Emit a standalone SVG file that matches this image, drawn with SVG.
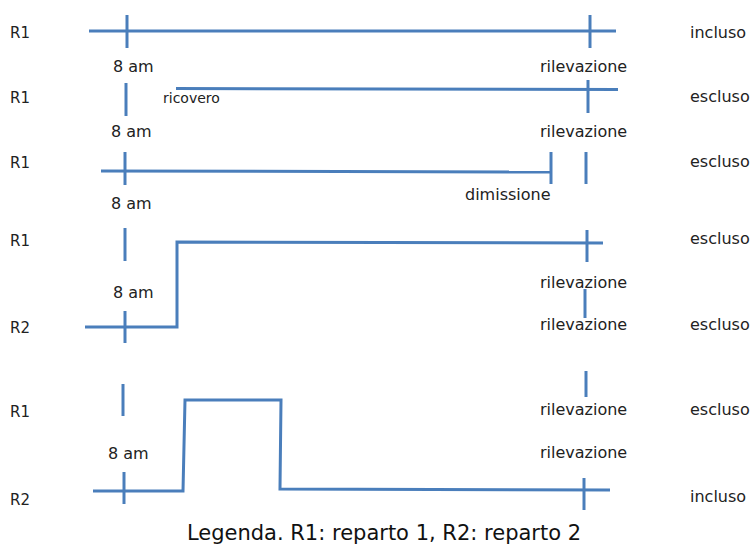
<svg xmlns="http://www.w3.org/2000/svg" width="753" height="544" viewBox="0 0 753 544">
<style>
.ln{stroke:#4A7EBB;stroke-width:3;fill:none;stroke-linejoin:miter}
.t{font-family:"DejaVu Sans",Verdana,sans-serif;font-size:16px;fill:#222}
.r{font-family:"DejaVu Sans",Verdana,sans-serif;font-size:15px;fill:#222}
.s{font-family:"DejaVu Sans",Verdana,sans-serif;font-size:14px;fill:#222}
.lg{font-family:"DejaVu Sans",Verdana,sans-serif;font-size:21px;fill:#111}
</style>
<rect width="753" height="544" fill="#fff"/>
<g id="connectors">
<line class="ln" x1="89" y1="31" x2="616" y2="31"/>
<line class="ln" x1="127" y1="15" x2="127" y2="48"/>
<line class="ln" x1="590" y1="15" x2="590" y2="48"/>
<line class="ln" x1="126" y1="83" x2="126" y2="116"/>
<line class="ln" x1="176" y1="88.5" x2="618" y2="89.5"/>
<line class="ln" x1="588" y1="80" x2="588" y2="113"/>
<line class="ln" x1="101" y1="171" x2="551" y2="172"/>
<line class="ln" x1="125" y1="152" x2="125" y2="185"/>
<line class="ln" x1="551" y1="152" x2="551" y2="184"/>
<line class="ln" x1="586" y1="152" x2="586" y2="184"/>
<line class="ln" x1="125" y1="228" x2="125" y2="261"/>
<polyline class="ln" points="85,327 177,327 177,242 603,243"/>
<line class="ln" x1="125" y1="311" x2="125" y2="343"/>
<line class="ln" x1="587" y1="230" x2="587" y2="262"/>
<line class="ln" x1="585" y1="289" x2="585" y2="318"/>
<line class="ln" x1="123" y1="384" x2="123" y2="416"/>
<polyline class="ln" points="93,491 183,491 185,400 281,400 280,489 610,490"/>
<line class="ln" x1="124" y1="472" x2="124" y2="504"/>
<line class="ln" x1="584" y1="478" x2="584" y2="510"/>
<line class="ln" x1="586" y1="371" x2="586" y2="397"/>
</g>
<g id="row1">
<text class="r" x="10" y="38">R1</text>
<text class="t" x="113" y="72">8 am</text>
<text class="t" x="540" y="72">rilevazione</text>
<text class="t" x="690" y="38">incluso</text>
</g>
<g id="row2">
<text class="r" x="10" y="103">R1</text>
<text class="s" x="163" y="103">ricovero</text>
<text class="t" x="111" y="137">8 am</text>
<text class="t" x="540" y="137">rilevazione</text>
<text class="t" x="690" y="102">escluso</text>
</g>
<g id="row3">
<text class="r" x="10" y="168">R1</text>
<text class="t" x="111" y="209">8 am</text>
<text class="t" x="465" y="200">dimissione</text>
<text class="t" x="690" y="167">escluso</text>
</g>
<g id="row4">
<text class="r" x="10" y="246">R1</text>
<text class="r" x="10" y="333">R2</text>
<text class="t" x="113" y="298">8 am</text>
<text class="t" x="540" y="288">rilevazione</text>
<text class="t" x="540" y="330">rilevazione</text>
<text class="t" x="690" y="244">escluso</text>
<text class="t" x="690" y="330">escluso</text>
</g>
<g id="row5">
<text class="r" x="10" y="417">R1</text>
<text class="r" x="10" y="505">R2</text>
<text class="t" x="108" y="459">8 am</text>
<text class="t" x="540" y="415">rilevazione</text>
<text class="t" x="540" y="458">rilevazione</text>
<text class="t" x="690" y="415">escluso</text>
<text class="t" x="690" y="502">incluso</text>
</g>
<g id="legend">
<text class="lg" x="384" y="540" text-anchor="middle">Legenda. R1: reparto 1, R2: reparto 2</text>
</g>
</svg>
